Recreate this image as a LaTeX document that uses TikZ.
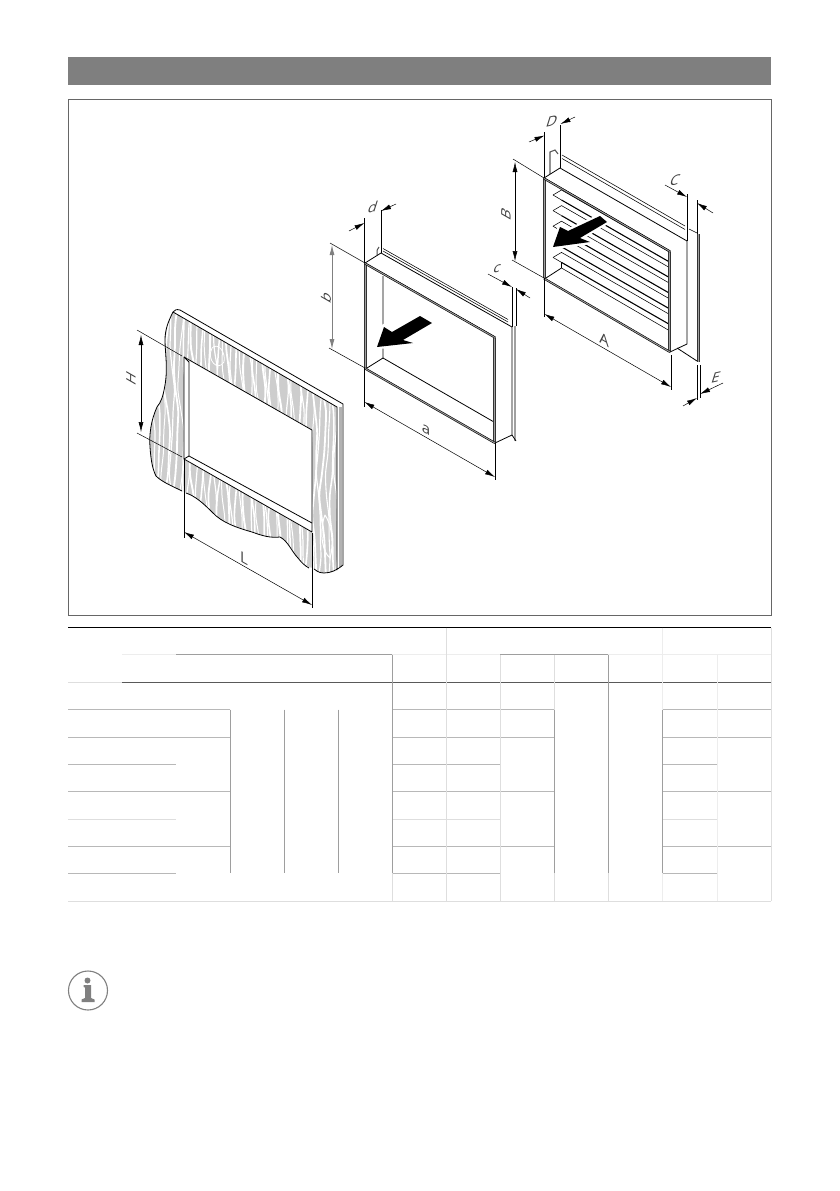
\documentclass[tikz,border=0pt]{standalone}
\usepackage{fontspec}
\setmainfont{Open Sans}
\usetikzlibrary{arrows.meta}
\definecolor{woodg}{HTML}{CDCDCD}
\definecolor{barg}{HTML}{A0A0A0}
\definecolor{hdr}{HTML}{7F7F7F}
\definecolor{inkg}{HTML}{404040}
\tikzset{
 tip/.tip={Latex[length=10pt,width=5pt]},
 ol/.style={draw=black,line width=.8pt,line join=round},
 thin1/.style={draw=black,line width=.55pt},
 barline/.style={draw=black!80,line width=.35pt,double=barg,double distance=1.8pt},
 topline/.style={draw=black,line width=.6pt,double=barg,double distance=.9pt},
 dimline/.style={draw=black,line width=.5pt},
 dimarrow/.style={draw=black,line width=.5pt,-tip},
 dimboth/.style={draw=black,line width=.5pt,tip-tip},
 dimgrey/.style={draw=black!50,line width=.8pt,tip-tip},
 lab/.style={text=inkg,font=\fontsize{15}{15}\selectfont,inner sep=0pt},
 vlab/.style={lab,cm={0,1,-.87,.5,(0,0)}},
 alab/.style={lab,yslant=-.57},
 dlab/.style={lab,cm={.97,.22,.3,.95,(0,0)}},
 grain/.style={draw=white,line cap=round},
 bigarrow/.style={fill=black,line join=round,preaction={draw=white,line width=4.5pt}},
 tdark/.style={draw=black!38,line width=.7pt},
 tmid/.style={draw=black!28,line width=.7pt},
 tlite/.style={draw=black!13,line width=.7pt},
 tfaint/.style={draw=black!7,line width=.7pt},
}
\begin{document}
\begin{tikzpicture}[x=1pt,y=-1pt]
\useasboundingbox[fill=white] (0,0) rectangle (839,1191);
% header band and frame
\node[fill=hdr,minimum width=703pt,minimum height=28pt,inner sep=0pt,anchor=north west] (band) at (68,57) {};
\node[draw=black!60,line width=.6pt,minimum width=703pt,minimum height=516pt,inner sep=0pt,anchor=north west] (panel) at (68,99) {};

% ---------- wall ----------
\def\wallface{(173,312) .. controls (168,322) and (165,330) .. (165,340)
 .. controls (165,352) and (168,368) .. (165,385) .. controls (163,397) and (161,402) .. (157,407)
 .. controls (151,420) and (149,435) .. (150,447) .. controls (151,462) and (153,470) .. (156,476)
 .. controls (162,482) and (172,486) .. (184,492)
 .. controls (195,496) and (203,503) .. (212,512) .. controls (222,523) and (238,528) .. (252,532)
 .. controls (263,536) and (270,538) .. (280,537) .. controls (288,541) and (292,552) .. (298,558)
 .. controls (303,563) and (308,568) .. (313,568) .. controls (316,570) and (318,573) .. (324,573)
 .. controls (329,573) and (333,572) .. (337,570) -- (337,407) -- cycle}
\def\wallhole{(184,357) -- (312,430) -- (312,532) -- (184,459) -- cycle}
\fill[woodg] \wallface;
\begin{scope}
 \clip \wallface;
 \foreach \xx/\aa/\pp/\ww in {
  153/2/0/1.2,158/2/40/1.6,163/2/90/1.0,167/3/20/1.7,172/2/130/1.2,176/2/60/1.8,181/3/10/1.0,
  185/2/100/1.5,189/2/35/1.1,193/3/150/1.9,198/2/75/1.2,202/2/5/1.6,207/3/115/1.0,211/2/50/1.8,
  215/2/170/1.2,220/3/25/1.5,224/2/95/1.0,228/2/140/1.8,233/3/65/1.2,237/2/15/1.6,241/2/110/1.0,
  246/3/45/1.9,250/2/160/1.2,254/2/85/1.6,259/3/30/1.0,263/2/125/1.8,267/2/70/1.2,272/3/0/1.6,
  276/2/100/1.0,280/2/40/1.9,285/3/145/1.2,289/2/80/1.5,293/2/20/1.0,298/3/120/1.8,302/2/55/1.2,
  306/2/165/1.6,311/3/90/1.0,315/2/10/1.7,319/2/130/1.2,323/3/60/1.8,328/2/105/1.1,332/2/35/1.6,336/2/150/1.2}
 {
  \draw[grain,line width=\ww pt] plot[smooth,samples=14,domain=305:580,variable=\t]
    ({\xx+\aa*sin(\t*2.6+\pp)+.7*sin(\t*6.1+2*\pp)},\t);
 }
 \draw[grain,line width=.8pt] (212,348) .. controls (206,360) and (218,372) .. (224,362) .. controls (226,352) and (218,342) .. (212,348);
 \draw[grain,line width=1pt] (325,515) .. controls (319,530) and (322,552) .. (330,558) .. controls (334,545) and (332,525) .. (325,515);
\end{scope}
\fill[white] \wallhole;
% wall outlines
\draw[ol] (173,312) .. controls (168,322) and (165,330) .. (165,340)
 .. controls (165,352) and (168,368) .. (165,385) .. controls (163,397) and (161,402) .. (157,407)
 .. controls (151,420) and (149,435) .. (150,447) .. controls (151,462) and (153,470) .. (156,476)
 .. controls (162,482) and (172,486) .. (182,491);
\draw[ol] (186,493) .. controls (195,496) and (203,503) .. (212,512) .. controls (222,523) and (238,528) .. (252,532)
 .. controls (263,536) and (270,538) .. (280,537) .. controls (288,541) and (292,552) .. (298,558)
 .. controls (301,562) and (305,566) .. (309,568);
\draw[draw=black!30,line width=3pt] (340,407) -- (340,567);
\draw[ol] (314,569) .. controls (316,570) and (318,573) .. (324,573)
 .. controls (331,573) and (337,570) .. (343,565) -- (343,404) -- (180,310)
 .. controls (176,309) and (175,310) .. (173,312) -- (337,407) -- (337,570);
\draw[ol,fill=white] (184,357) -- (312,430) -- (312,532) -- (184,459) -- cycle;
\draw[ol] (189,362) -- (189,456) -- (312,523);
\draw[ol] (184,357) -- (189,362);
\draw[ol] (184,459) -- (189,456);
% wall dims
\coordinate (Ha) at (141,335); \coordinate (Hb) at (141,432);
\coordinate (Hae) at (137,330); \coordinate (Hbe) at (137,433);
\coordinate (Hat) at (182,356); \coordinate (Hbt) at (182,457);
\draw[dimline] (Hae) -- (Hat); \draw[dimline] (Hbe) -- (Hbt);
\draw[dimboth] (Ha) -- (Hb);
\node[vlab] (lH) at (131,378) {H};
\coordinate (La) at (184,532); \coordinate (Lb) at (312,605);
\coordinate (Lae) at (184,538); \coordinate (Lbe) at (312,608);
\coordinate (Lat) at (184,459); \coordinate (Lbt) at (312,533);
\draw[dimline] (Lat) -- (Lae); \draw[dimline] (Lbt) -- (Lbe);
\draw[dimboth] (La) -- (Lb);
\node[alab] (lL) at (244,558) {L};

% ---------- frame box ----------
\draw[draw=black!70,line width=1pt] (377,255) .. controls (377,251) and (377,248) .. (379,247);
\draw[thin1] (383,248.5) -- (508,319.5);
\draw[thin1] (383,251) -- (508,322);
\draw[barline] (515,326) -- (515,441);
\draw[ol,fill=white] (365,263) -- (381,253) -- (512,327) -- (512,435) -- (495,443) -- (495,337) -- cycle;
\draw[ol] (512,435) -- (516,441);
\draw[thin1,fill=white] (365,263) -- (495,337) -- (495,443) -- (365,368) -- cycle;
\draw[ol] (383,276) -- (383,358) -- (494,422);
\draw[ol] (367,368) -- (383,358);
\path[bigarrow] (377,347) -- (384,327) -- (392,332) -- (420,316) -- (432,323) -- (403,340) -- (413,343) -- cycle;
\draw[barline] (365.5,263) -- (365.5,368);
\draw[barline] (494.5,338) -- (494.5,442);
\draw[topline] (365,263.5) -- (495,337.5);
\draw[topline] (365,368.5) -- (495,443);
% frame dims
\coordinate (da) at (364.5,223); \coordinate (db) at (381,211);
\coordinate (dao) at (349,231); \coordinate (dbo) at (396,204);
\coordinate (dat) at (364.5,263); \coordinate (dbt) at (381,253);
\coordinate (dae) at (364.5,218); \coordinate (dbe) at (381,210);
\draw[dimline] (dae) -- (dat); \draw[dimline] (dbe) -- (dbt);
\draw[dimarrow] (dao) -- (da); \draw[dimarrow] (dbo) -- (db);
\node[dlab] (ld) at (373,207) {d};
\coordinate (ba) at (332,245); \coordinate (bb) at (332,349);
\draw[dimline] (330,243) -- (365,263); \draw[dimline] (329,348) -- (365,368);
\draw[dimgrey] (ba) -- (bb);
\node[vlab] (lb) at (326,297) {b};
\draw[dimline] (364.5,368) -- (364.5,407); \draw[dimline] (495,443) -- (495,480);
\draw[dimboth] (364.5,402) -- (495,477);
\node[alab] (la) at (426,430) {a};
\draw[dimline] (512,287) -- (512,327); \draw[dimline] (516,288) -- (516,326);
\draw[dimarrow] (488,274) -- (512,287); \draw[dimarrow] (530,298) -- (516,289);
\node[dlab] (lc) at (497,269) {c};

% ---------- louvre ----------
\draw[draw=black!65,line width=1.1pt] (550,175) -- (550,152) -- (555,150) -- (558,154);
\draw[thin1] (562,155) -- (685,226);
\draw[thin1] (562,158.5) -- (685,229.5);
\draw[thin1] (689,229) -- (697,233);
\draw[barline] (698.5,234) -- (698.5,362);
\draw[ol,fill=white] (544,178) -- (560,168) -- (687,241) -- (687,344) -- (670,352) -- (670,251) -- cycle;
\draw[ol] (677,348) -- (697,361);
\draw[thin1,fill=white] (544,178) -- (670,251) -- (670,352) -- (544,278) -- cycle;
% slats
\foreach \k in {0,1,2,3,4}{
  \pgfmathsetmacro\pk{190+\k*15.6}
  \draw[thin1] (553,{\pk+5}) -- (561.5,\pk) -- (670,{\pk+62.3});
  \draw[thin1] (553,{\pk+5}) -- (561.5,{\pk+10});
  \draw[draw=black,line width=1.1pt] (561.5,{\pk+10}) -- (670,{\pk+72.3});
}
\draw[ol] (561.5,262) -- (561.5,268);
\draw[thin1] (561.5,268) -- (670,331);
\draw[ol] (546,278) -- (561.5,268);
\path[bigarrow] (553,247) -- (560,227) -- (568,231) -- (600,216) -- (607,222) -- (580,238) -- (590,242) -- cycle;
\draw[barline] (544.5,178) -- (544.5,278);
\draw[barline] (669.5,252) -- (669.5,351);
\draw[topline] (544,178.5) -- (670,251.5);
\draw[topline] (544,278.5) -- (670,352);
% louvre dims
\draw[dimline] (544.5,132) -- (544.5,178); \draw[dimline] (560.5,125) -- (560.5,168);
\draw[dimarrow] (529,142) -- (544.5,135.5); \draw[dimarrow] (575,117) -- (560.5,124);
\node[dlab] (lD) at (552,121) {D};
\draw[dimline] (513,159) -- (544,178); \draw[dimline] (512,260) -- (544,278);
\draw[dimboth] (515,162) -- (515,261);
\node[vlab] (lB) at (506,214) {B};
\draw[dimline] (544.5,278) -- (544.5,317); \draw[dimline] (671,355) -- (671,390);
\draw[dimboth] (544.5,314) -- (671,387);
\node[alab] (lA) at (604,340) {A};
\draw[dimline] (687,194) -- (687,241); \draw[dimline] (697,200) -- (697,234);
\draw[dimarrow] (665,185) -- (687,197); \draw[dimarrow] (713,213) -- (697,203);
\node[dlab] (lC) at (675,180) {C};
\draw[dimline] (697,365) -- (697,400); \draw[dimline] (700,365) -- (700,398);
\draw[dimarrow] (683,406) -- (697,398); \draw[dimarrow] (723,383) -- (700,394);
\node[dlab] (lE) at (716,377) {E};

% ---------- table ----------
\draw[draw=black,line width=.9pt] (68,627.5) -- (771,627.5);
\draw[draw=black!65,line width=.7pt] (122,682) -- (771,682);
\draw[tlite] (68,682) -- (122,682);
\draw[tdark] (176,654.5) -- (392,654.5) (500,654.5) -- (608,654.5);
\draw[tfaint] (122,654.5) -- (176,654.5) (392,654.5) -- (500,654.5) (608,654.5) -- (771,654.5);
\draw[tmid] (68,709.5) -- (230,709.5) (392,709.5) -- (554,709.5) (662,709.5) -- (771,709.5);
\draw[tmid] (68,737) -- (230,737) (392,737) -- (554,737) (662,737) -- (771,737);
\draw[tmid] (68,764) -- (176,764) (392,764) -- (500,764) (662,764) -- (717,764);
\draw[tmid] (68,791) -- (230,791) (392,791) -- (554,791) (662,791) -- (771,791);
\draw[tlite] (68,819) -- (176,819) (392,819) -- (500,819) (662,819) -- (717,819);
\draw[tmid] (68,846) -- (230,846) (392,846) -- (554,846) (662,846) -- (771,846);
\draw[tmid] (68,873) -- (176,873) (392,873) -- (500,873) (662,873) -- (717,873);
\draw[tlite] (68,901) -- (771,901);
\draw[tdark] (230,709.5) -- (230,873) (284,709.5) -- (284,873) (338,709.5) -- (338,873)
  (392,654.5) -- (392,873) (554,709.5) -- (554,873) (608,654.5) -- (608,873) (662,709.5) -- (662,873);
\draw[tlite] (392,873) -- (392,901) (446,627.5) -- (446,901) (500,654.5) -- (500,901)
  (554,654.5) -- (554,709.5) (554,873) -- (554,901) (608,873) -- (608,901) (771,627.5) -- (771,901);
\draw[tfaint] (662,627.5) -- (662,709.5) (662,873) -- (662,901) (717,654.5) -- (717,901);

% ---------- info icon ----------
\node[circle,draw=black!50,line width=1.1pt,minimum size=39pt,inner sep=0pt] (info) at (88,990.5) {};
\fill[black!50] (87.5,980.5) circle (3pt);
\fill[black!50] (83.5,985) -- (91,985) -- (91,998) -- (94.5,999.5) -- (94.5,1002) -- (81.5,1002) -- (81.5,999.5) -- (85,998) -- (85,987.5) -- (83.5,987) -- cycle;
\end{tikzpicture}
\end{document}
